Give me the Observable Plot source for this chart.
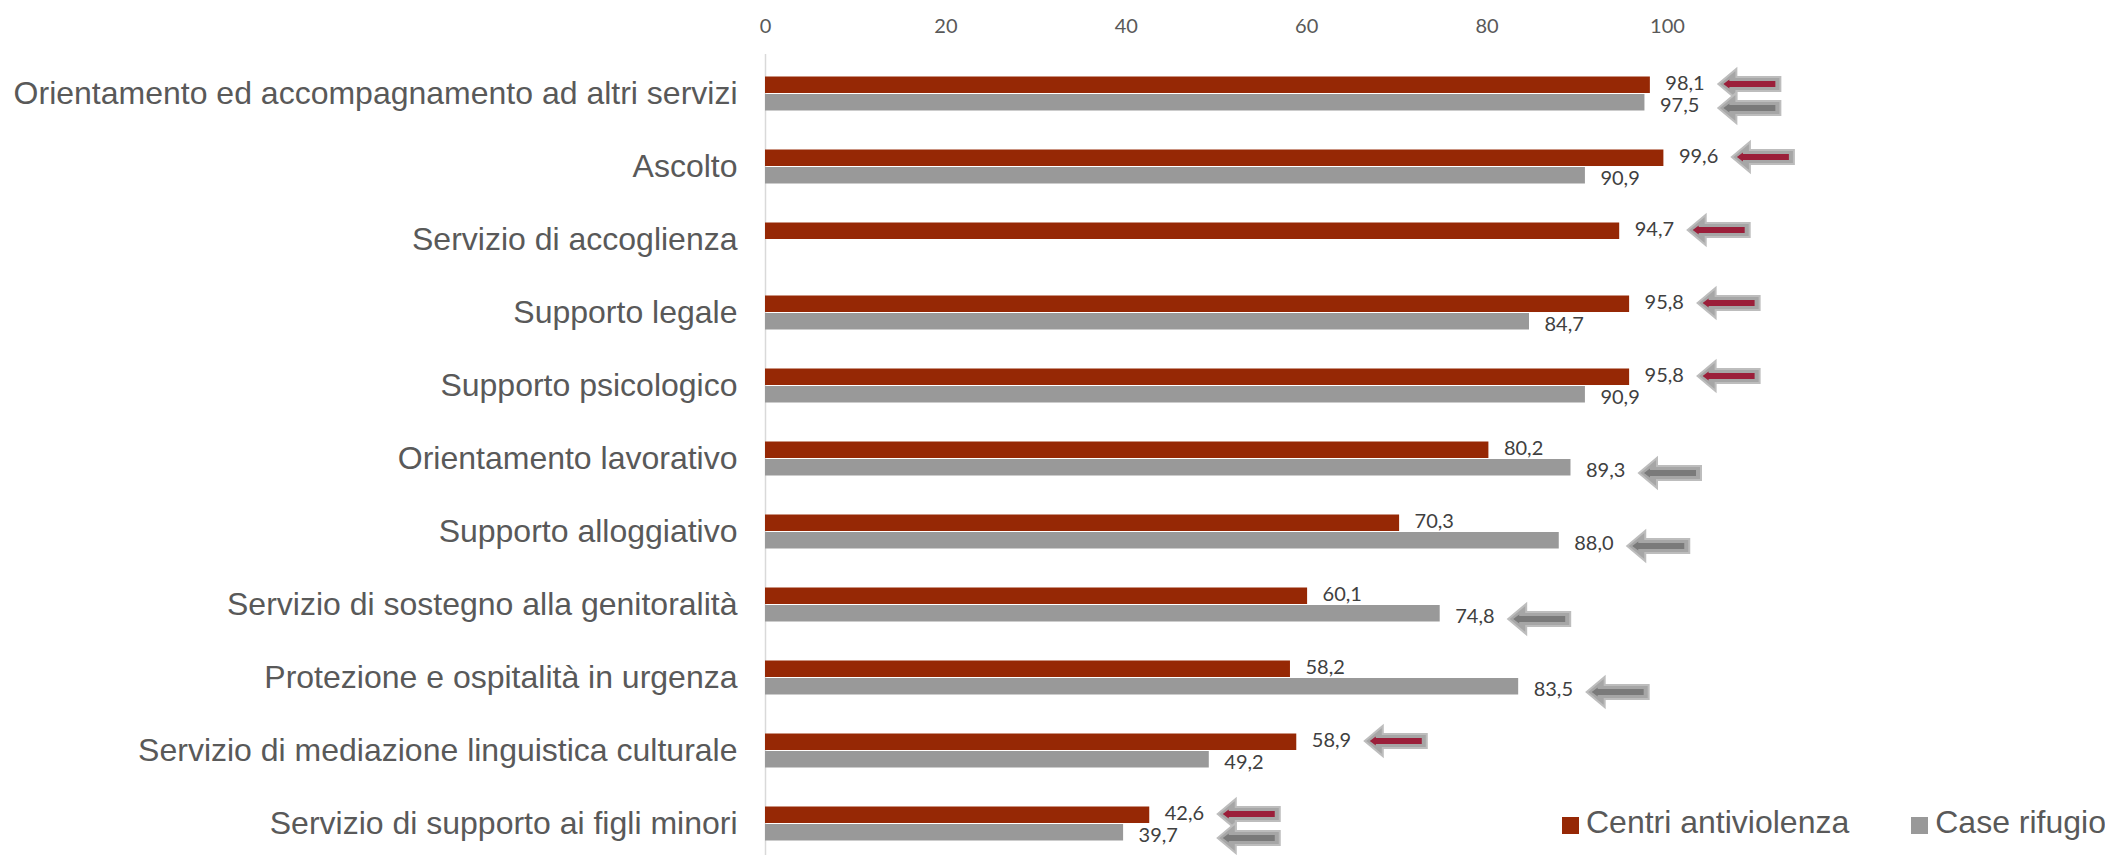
<!DOCTYPE html>
<html>
<head>
<meta charset="utf-8">
<script src="https://cdn.jsdelivr.net/npm/d3@7"></script>
<script src="https://cdn.jsdelivr.net/npm/@observablehq/plot@0.6"></script>
<style>
  html, body { margin: 0; padding: 0; background: #fff; }
  #wrap { position: relative; width: 2105px; height: 855px; overflow: hidden; }
  #legend { position: absolute; left: 1562px; top: 804px; display: flex; align-items: center;
            font-family: Arial, "Liberation Sans", sans-serif; font-size: 32px; color: #595959; white-space: nowrap; }
  #legend .item { display: flex; align-items: center; }
  #legend .sw { width: 17px; height: 17px; margin-right: 7px; margin-top: 6px; }
</style>
</head>
<body>
<div id="wrap"><div id="chart"></div><div id="legend"></div></div>
<script>
// ---- data ----
const categories = [
  "Orientamento ed accompagnamento ad altri servizi",
  "Ascolto",
  "Servizio di accoglienza",
  "Supporto legale",
  "Supporto psicologico",
  "Orientamento lavorativo",
  "Supporto alloggiativo",
  "Servizio di sostegno alla genitoralità",
  "Protezione e ospitalità in urgenza",
  "Servizio di mediazione linguistica culturale",
  "Servizio di supporto ai figli minori"
];
const centriAntiviolenza = [98.1, 99.6, 94.7, 95.8, 95.8, 80.2, 70.3, 60.1, 58.2, 58.9, 42.6];
const caseRifugio       = [97.5, 90.9, null, 84.7, 90.9, 89.3, 88.0, 74.8, 83.5, 49.2, 39.7];
// which series carries a (leftward) arrow marker in each category
const arrowCentri = [true, true, true, true, true, false, false, false, false, true, true];
const arrowCase   = [true, false, false, false, false, true, true, true, true, false, true];
const seriesNames = ["Centri antiviolenza", "Case rifugio"];
const xTicks = [0, 20, 40, 60, 80, 100];

// ---- styles ----
const barColors = {"Centri antiviolenza": "#962805", "Case rifugio": "#999999"};
const arrowInner = {"Centri antiviolenza": "#9B1F3A", "Case rifugio": "#7A7A7A"};

// ---- tables built from arrays ----
const bars = [];
categories.forEach((c, i) => {
  if (centriAntiviolenza[i] != null) bars.push({cat: c, series: seriesNames[0], value: centriAntiviolenza[i]});
  if (caseRifugio[i] != null) bars.push({cat: c, series: seriesNames[1], value: caseRifugio[i]});
});
const arrows = [];
categories.forEach((c, i) => {
  const vals = [];
  if (arrowCentri[i]) vals.push(centriAntiviolenza[i]);
  if (arrowCase[i]) vals.push(caseRifugio[i]);
  const anchor = d3.max(vals);
  if (arrowCentri[i]) arrows.push({cat: c, series: seriesNames[0], value: anchor});
  if (arrowCase[i]) arrows.push({cat: c, series: seriesNames[1], value: anchor});
});
const fmt = v => v.toFixed(1).replace(".", ",");

// custom block-arrow symbols (tip at origin, pointing left)
const outerArrow = {draw(ctx) {
  ctx.moveTo(0, 0); ctx.lineTo(18, -15); ctx.lineTo(18, -7); ctx.lineTo(62, -7);
  ctx.lineTo(62, 7); ctx.lineTo(18, 7); ctx.lineTo(18, 15); ctx.closePath();
}};
const innerArrow = {draw(ctx) {
  ctx.moveTo(5, 0); ctx.lineTo(11, -4.5); ctx.lineTo(11, -3); ctx.lineTo(57, -3);
  ctx.lineTo(57, 3); ctx.lineTo(11, 3); ctx.lineTo(11, 4.5); ctx.closePath();
}};

const red = d => d.series === seriesNames[0];
const gray = d => d.series === seriesNames[1];

const chart = Plot.plot({
  width: 2105,
  height: 855,
  marginLeft: 765,
  marginRight: 438,
  marginTop: 54,
  marginBottom: 0,
  style: {fontFamily: "Lato, sans-serif", background: "#fff", overflow: "visible"},
  x: {domain: [0, 100]},
  y: {domain: categories, range: [54, 862], padding: 0},
  marks: [
    Plot.ruleX([0], {stroke: "#D9D9D9", strokeWidth: 1.5}),
    Plot.barX(bars.filter(red), {x: "value", y: "cat", fill: d => barColors[d.series], insetTop: 19.5, insetBottom: 37}),
    Plot.barX(bars.filter(gray), {x: "value", y: "cat", fill: d => barColors[d.series], insetTop: 37, insetBottom: 19.5}),
    Plot.text(bars.filter(red), {x: "value", y: "cat", text: d => fmt(d.value), dx: 15, dy: -10, textAnchor: "start",
      fill: "#404040", fontSize: 20, fontFamily: "Lato, sans-serif"}),
    Plot.text(bars.filter(gray), {x: "value", y: "cat", text: d => fmt(d.value), dx: 15, dy: 12, textAnchor: "start",
      fill: "#404040", fontSize: 20, fontFamily: "Lato, sans-serif"}),
    Plot.dot(arrows.filter(red), {x: "value", y: "cat", dx: 68, dy: -10, symbol: outerArrow, fill: "#A6A6A6", stroke: "#BDBDBD", strokeWidth: 2}),
    Plot.dot(arrows.filter(red), {x: "value", y: "cat", dx: 68, dy: -10, symbol: innerArrow, fill: d => arrowInner[d.series], stroke: "none"}),
    Plot.dot(arrows.filter(gray), {x: "value", y: "cat", dx: 68, dy: 14, symbol: outerArrow, fill: "#A6A6A6", stroke: "#BDBDBD", strokeWidth: 2}),
    Plot.dot(arrows.filter(gray), {x: "value", y: "cat", dx: 68, dy: 14, symbol: innerArrow, fill: d => arrowInner[d.series], stroke: "none"}),
    Plot.axisX({anchor: "top", ticks: xTicks, tickSize: 0, tickPadding: 22, fontSize: 20, fill: "#595959",
      fontFamily: "Lato, sans-serif", label: null, tickFormat: d => String(d)}),
    Plot.axisY({tickSize: 0, tickPadding: 28, fontSize: 32, fill: "#595959",
      fontFamily: "Arial, 'Liberation Sans', sans-serif", label: null})
  ]
});
document.getElementById("chart").appendChild(chart);

// legend (overlaid at the bottom right, as in the original)
const legend = document.getElementById("legend");
seriesNames.forEach((s, i) => {
  const item = document.createElement("div");
  item.className = "item";
  if (i > 0) item.style.marginLeft = "62px";
  const sw = document.createElement("div");
  sw.className = "sw";
  sw.style.background = barColors[s];
  const t = document.createElement("span");
  t.textContent = s;
  item.appendChild(sw); item.appendChild(t);
  legend.appendChild(item);
});
</script>
</body>
</html>
